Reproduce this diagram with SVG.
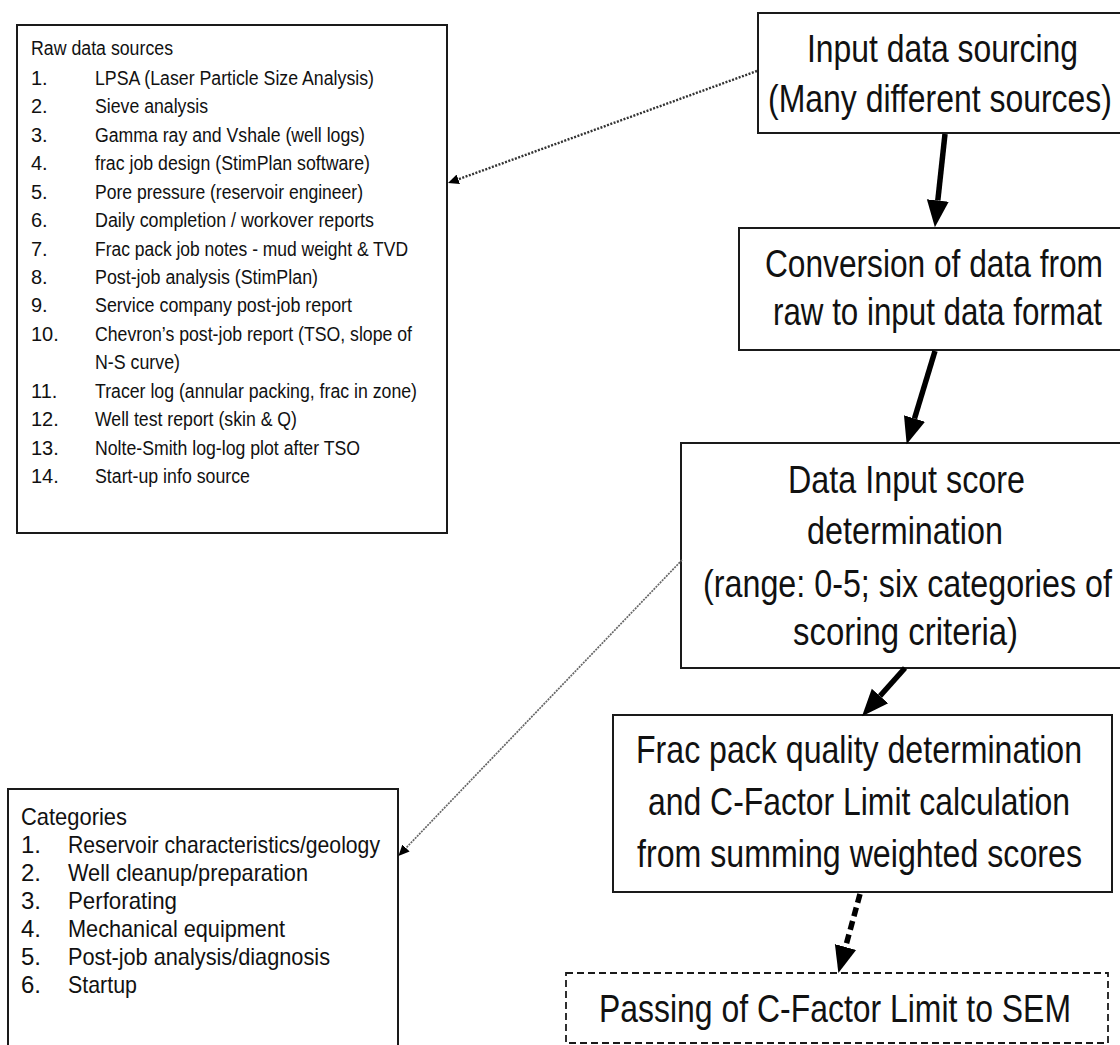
<svg xmlns="http://www.w3.org/2000/svg" width="1120" height="1045" viewBox="0 0 1120 1045">
<style>
  .box { fill: #fff; stroke: #1a1a1a; stroke-width: 2; }
  .dbox { fill: #fff; stroke: #1a1a1a; stroke-width: 1.8; stroke-dasharray: 7 4; }
  text { font-family: "Liberation Sans", Arial, sans-serif; fill: #111; }
  .big { font-size: 39px; }
  .sm { font-size: 20px; }
  .cat { font-size: 24px; }
  .thick { stroke: #000; stroke-width: 5.5; fill: none; }
  .thickdash { stroke: #000; stroke-width: 5.5; fill: none; stroke-dasharray: 9 5; }
  .dot1 { stroke: #333; stroke-width: 2.4; fill: none; stroke-dasharray: 2 1.5; }
  .dot2 { stroke: #666; stroke-width: 1.7; fill: none; stroke-dasharray: 2 1; }
</style>
<defs>
  <marker id="bigHead" markerUnits="userSpaceOnUse" markerWidth="30" markerHeight="26" refX="0" refY="11" orient="auto" viewBox="0 0 30 22">
    <path d="M0,0 L27,11 L0,22 z" fill="#000"/>
  </marker>
  <marker id="smallHead" markerUnits="userSpaceOnUse" markerWidth="12" markerHeight="10" refX="0" refY="5" orient="auto" viewBox="0 0 12 10">
    <path d="M0,0 L11,5 L0,10 z" fill="#000"/>
  </marker>
</defs>

<g id="raw-data-sources">
  <rect class="box" x="17" y="25" width="430" height="508"/>
  <g class="sm">
    <text x="31" y="55" textLength="142" lengthAdjust="spacingAndGlyphs">Raw data sources</text>
    <text x="31" y="85">1.</text><text x="95" y="85" textLength="279" lengthAdjust="spacingAndGlyphs">LPSA (Laser Particle Size Analysis)</text>
    <text x="31" y="113.4">2.</text><text x="95" y="113.4" textLength="113" lengthAdjust="spacingAndGlyphs">Sieve analysis</text>
    <text x="31" y="141.9">3.</text><text x="95" y="141.9" textLength="270" lengthAdjust="spacingAndGlyphs">Gamma ray and Vshale (well logs)</text>
    <text x="31" y="170.3">4.</text><text x="95" y="170.3" textLength="275" lengthAdjust="spacingAndGlyphs">frac job design (StimPlan software)</text>
    <text x="31" y="198.7">5.</text><text x="95" y="198.7" textLength="268" lengthAdjust="spacingAndGlyphs">Pore pressure (reservoir engineer)</text>
    <text x="31" y="227.2">6.</text><text x="95" y="227.2" textLength="279" lengthAdjust="spacingAndGlyphs">Daily completion / workover reports</text>
    <text x="31" y="255.6">7.</text><text x="95" y="255.6" textLength="313" lengthAdjust="spacingAndGlyphs">Frac pack job notes - mud weight &amp; TVD</text>
    <text x="31" y="284">8.</text><text x="95" y="284" textLength="223" lengthAdjust="spacingAndGlyphs">Post-job analysis (StimPlan)</text>
    <text x="31" y="312.4">9.</text><text x="95" y="312.4" textLength="257" lengthAdjust="spacingAndGlyphs">Service company post-job report</text>
    <text x="31" y="340.9">10.</text><text x="95" y="340.9" textLength="317" lengthAdjust="spacingAndGlyphs">Chevron’s post-job report (TSO, slope of</text>
    <text x="95" y="369.3" textLength="85" lengthAdjust="spacingAndGlyphs">N-S curve)</text>
    <text x="31" y="397.7">11.</text><text x="95" y="397.7" textLength="322" lengthAdjust="spacingAndGlyphs">Tracer log (annular packing, frac in zone)</text>
    <text x="31" y="426.2">12.</text><text x="95" y="426.2" textLength="202" lengthAdjust="spacingAndGlyphs">Well test report (skin &amp; Q)</text>
    <text x="31" y="454.6">13.</text><text x="95" y="454.6" textLength="265" lengthAdjust="spacingAndGlyphs">Nolte-Smith log-log plot after TSO</text>
    <text x="31" y="483">14.</text><text x="95" y="483" textLength="155" lengthAdjust="spacingAndGlyphs">Start-up info source</text>
  </g>
</g>

<g id="categories">
  <rect class="box" x="8" y="789" width="390" height="270"/>
  <g class="cat">
    <text x="21" y="825" textLength="106" lengthAdjust="spacingAndGlyphs">Categories</text>
    <text x="21" y="853">1.</text><text x="68" y="853" textLength="312" lengthAdjust="spacingAndGlyphs">Reservoir characteristics/geology</text>
    <text x="21" y="881">2.</text><text x="68" y="881" textLength="240" lengthAdjust="spacingAndGlyphs">Well cleanup/preparation</text>
    <text x="21" y="909">3.</text><text x="68" y="909" textLength="109" lengthAdjust="spacingAndGlyphs">Perforating</text>
    <text x="21" y="937">4.</text><text x="68" y="937" textLength="217" lengthAdjust="spacingAndGlyphs">Mechanical equipment</text>
    <text x="21" y="965">5.</text><text x="68" y="965" textLength="262" lengthAdjust="spacingAndGlyphs">Post-job analysis/diagnosis</text>
    <text x="21" y="993">6.</text><text x="68" y="993" textLength="69" lengthAdjust="spacingAndGlyphs">Startup</text>
  </g>
</g>

<g id="input-data-sourcing">
  <rect class="box" x="758" y="13" width="363" height="120"/>
  <text class="big" x="807" y="62" textLength="271" lengthAdjust="spacingAndGlyphs">Input data sourcing</text>
  <text class="big" x="768" y="112" textLength="344" lengthAdjust="spacingAndGlyphs">(Many different sources)</text>
</g>

<g id="conversion">
  <rect class="box" x="739" y="228" width="382" height="122"/>
  <text class="big" x="765" y="277" textLength="338" lengthAdjust="spacingAndGlyphs">Conversion of data from</text>
  <text class="big" x="773" y="325" textLength="329" lengthAdjust="spacingAndGlyphs">raw to input data format</text>
</g>

<g id="score-determination">
  <rect class="box" x="681" y="443" width="440" height="225"/>
  <text class="big" x="788" y="493" textLength="237" lengthAdjust="spacingAndGlyphs">Data Input score</text>
  <text class="big" x="807" y="544" textLength="196" lengthAdjust="spacingAndGlyphs">determination</text>
  <text class="big" x="703" y="597" textLength="409" lengthAdjust="spacingAndGlyphs">(range: 0-5; six categories of</text>
  <text class="big" x="793" y="645" textLength="225" lengthAdjust="spacingAndGlyphs">scoring criteria)</text>
</g>

<g id="frac-pack-quality">
  <rect class="box" x="613" y="715" width="499" height="177"/>
  <text class="big" x="636" y="763" textLength="446" lengthAdjust="spacingAndGlyphs">Frac pack quality determination</text>
  <text class="big" x="648" y="815" textLength="422" lengthAdjust="spacingAndGlyphs">and C-Factor Limit calculation</text>
  <text class="big" x="637" y="867" textLength="445" lengthAdjust="spacingAndGlyphs">from summing weighted scores</text>
</g>

<g id="passing-to-sem">
  <rect class="dbox" x="566" y="973" width="542" height="70"/>
  <text class="big" x="599" y="1022" textLength="472" lengthAdjust="spacingAndGlyphs">Passing of C-Factor Limit to SEM</text>
</g>

<g id="connectors">
  <line class="thick" x1="945" y1="134" x2="937.8" y2="200.5" marker-end="url(#bigHead)"/>
  <line class="thick" x1="935" y1="351" x2="914.5" y2="418.5" marker-end="url(#bigHead)"/>
  <line class="thick" x1="905" y1="668" x2="880" y2="696" marker-end="url(#bigHead)"/>
  <line class="thickdash" x1="860" y1="894" x2="845.5" y2="947" marker-end="url(#bigHead)"/>
  <line class="dot1" x1="757" y1="71" x2="458.3" y2="179.3" marker-end="url(#smallHead)"/>
  <line class="dot2" x1="682" y1="560" x2="406" y2="848" marker-end="url(#smallHead)"/>
</g>
</svg>
